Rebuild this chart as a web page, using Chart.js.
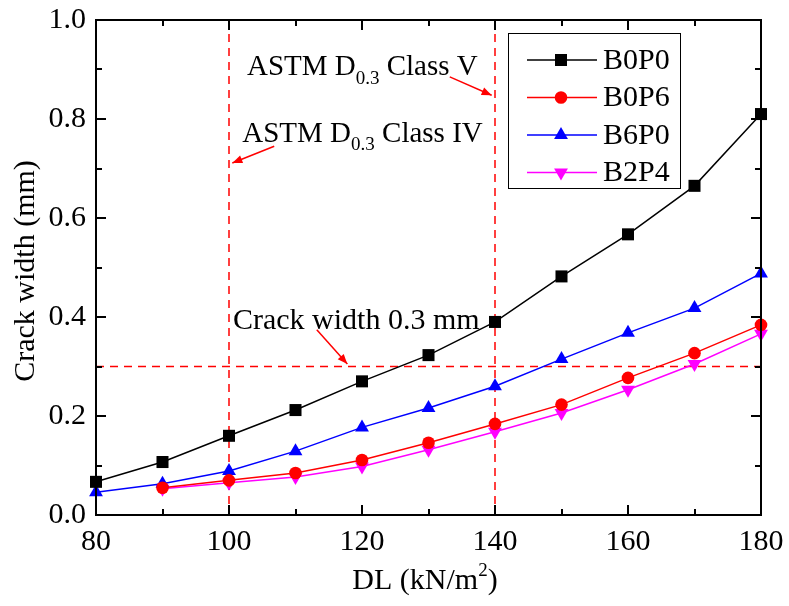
<!DOCTYPE html>
<html>
<head>
<meta charset="utf-8">
<script src="https://cdn.jsdelivr.net/npm/chart.js@4/dist/chart.umd.min.js"></script>
<style>
html,body{margin:0;padding:0;background:#fff;}
#wrap{width:789px;height:606px;}
</style>
</head>
<body>
<div id="wrap"><canvas id="c" width="789" height="606"></canvas></div>
<script>
const loads = [80, 90, 100, 110, 120, 130, 140, 150, 160, 170, 180];
const B0P0 = [0.067, 0.107, 0.160, 0.212, 0.270, 0.323, 0.390, 0.482, 0.567, 0.665, 0.810];
const B0P6 = [null, 0.055, 0.070, 0.085, 0.111, 0.146, 0.184, 0.223, 0.277, 0.327, 0.384];
const B6P0 = [0.046, 0.063, 0.089, 0.129, 0.177, 0.216, 0.260, 0.315, 0.368, 0.418, 0.488];
const B2P4 = [null, 0.053, 0.065, 0.077, 0.098, 0.132, 0.168, 0.206, 0.253, 0.305, 0.366];
const seriesNames = ['B0P0', 'B0P6', 'B6P0', 'B2P4'];
const xTickValues = [80, 100, 120, 140, 160, 180];
const yTickValues = [0, 0.2, 0.4, 0.6, 0.8, 1.0];
const refLoads = [100, 140];
const refCrack = 0.3;

const FONT = '"Liberation Serif", "Times New Roman", serif';
const FS = 30;

function mk(name, data, color, style, radius, rotation) {
  return {
    label: name,
    data: loads.map((x, i) => ({x: x, y: data[i]})),
    borderColor: color,
    backgroundColor: color,
    pointStyle: style,
    pointRadius: radius,
    pointHoverRadius: radius,
    pointRotation: rotation || 0,
    pointBorderWidth: 0,
    borderWidth: 1.5,
    tension: 0,
    spanGaps: false,
    clip: false
  };
}

const datasets = [
  mk(seriesNames[0], B0P0, '#000000', 'rect', 8.5),
  mk(seriesNames[1], B0P6, '#ff0000', 'circle', 6.3),
  mk(seriesNames[2], B6P0, '#0000ff', 'triangle', 8),
  mk(seriesNames[3], B2P4, '#ff00ff', 'triangle', 8, 180)
];

function arrow(ctx, x1, y1, x2, y2) {
  ctx.beginPath();
  ctx.moveTo(x1, y1);
  ctx.lineTo(x2, y2);
  ctx.stroke();
  const a = Math.atan2(y2 - y1, x2 - x1);
  const L = 10, W = 4;
  ctx.beginPath();
  ctx.moveTo(x2, y2);
  ctx.lineTo(x2 - L * Math.cos(a) + W * Math.sin(a), y2 - L * Math.sin(a) - W * Math.cos(a));
  ctx.lineTo(x2 - L * Math.cos(a) - W * Math.sin(a), y2 - L * Math.sin(a) + W * Math.cos(a));
  ctx.closePath();
  ctx.fill();
}

function subText(ctx, x, y, pre, sub, post, size) {
  ctx.font = size + 'px ' + FONT;
  ctx.fillText(pre, x, y);
  let w = ctx.measureText(pre).width;
  ctx.font = Math.round(size * 0.66) + 'px ' + FONT;
  ctx.fillText(sub, x + w, y + size * 0.3);
  w += ctx.measureText(sub).width;
  ctx.font = size + 'px ' + FONT;
  ctx.fillText(post, x + w, y);
}

const decor = {
  id: 'decor',
  beforeDatasetsDraw(chart) {
    const ctx = chart.ctx, xs = chart.scales.x, ys = chart.scales.y;
    const a = chart.chartArea;
    ctx.save();
    ctx.strokeStyle = '#ff0000';
    ctx.lineWidth = 1.5;
    ctx.setLineDash([8, 6]);
    refLoads.forEach(v => {
      const px = xs.getPixelForValue(v);
      ctx.beginPath(); ctx.moveTo(px, a.top); ctx.lineTo(px, a.bottom); ctx.stroke();
    });
    const py = ys.getPixelForValue(refCrack);
    ctx.beginPath(); ctx.moveTo(a.left, py); ctx.lineTo(a.right, py); ctx.stroke();
    ctx.setLineDash([]);
    ctx.fillStyle = '#000';
    ctx.textBaseline = 'alphabetic';
    ctx.textAlign = 'left';
    subText(ctx, xs.getPixelForValue(102.7), ys.getPixelForValue(0.889), 'ASTM D', '0.3', ' Class V', 29);
    subText(ctx, xs.getPixelForValue(102.0), ys.getPixelForValue(0.754), 'ASTM D', '0.3', ' Class IV', 29);
    ctx.font = FS + 'px ' + FONT;
    ctx.fillText('Crack width 0.3 mm', xs.getPixelForValue(100.6), ys.getPixelForValue(0.376));
    ctx.strokeStyle = '#ff0000';
    ctx.fillStyle = '#ff0000';
    ctx.lineWidth = 1.5;
    arrow(ctx, xs.getPixelForValue(133.2), ys.getPixelForValue(0.885), xs.getPixelForValue(139.5), ys.getPixelForValue(0.848));
    arrow(ctx, xs.getPixelForValue(106.8), ys.getPixelForValue(0.745), xs.getPixelForValue(100.5), ys.getPixelForValue(0.711));
    arrow(ctx, xs.getPixelForValue(113.2), ys.getPixelForValue(0.374), xs.getPixelForValue(117.8), ys.getPixelForValue(0.305));
    ctx.restore();
  },
  afterDatasetsDraw(chart) {
    const ctx = chart.ctx, xs = chart.scales.x, ys = chart.scales.y;
    const a = chart.chartArea;
    ctx.save();
    ctx.strokeStyle = '#000';
    ctx.lineWidth = 2;
    ctx.strokeRect(a.left, a.top, a.right - a.left, a.bottom - a.top);
    for (let v = 80; v <= 180; v += 10) {
      const px = Math.round(xs.getPixelForValue(v));
      const len = (v % 20 === 0) ? 10 : 6;
      ctx.beginPath();
      ctx.moveTo(px, a.bottom); ctx.lineTo(px, a.bottom - len);
      ctx.moveTo(px, a.top); ctx.lineTo(px, a.top + len);
      ctx.stroke();
    }
    for (let i = 0; i <= 10; i++) {
      const py = Math.round(ys.getPixelForValue(i / 10));
      const len = (i % 2 === 0) ? 10 : 6;
      ctx.beginPath();
      ctx.moveTo(a.left, py); ctx.lineTo(a.left + len, py);
      ctx.moveTo(a.right, py); ctx.lineTo(a.right - len, py);
      ctx.stroke();
    }
    ctx.fillStyle = '#000';
    ctx.textBaseline = 'alphabetic';
    const t1 = 'DL (kN/m', t2 = '2', t3 = ')';
    ctx.font = FS + 'px ' + FONT;
    const w1 = ctx.measureText(t1).width;
    ctx.font = '19px ' + FONT;
    const w2 = ctx.measureText(t2).width;
    ctx.font = FS + 'px ' + FONT;
    const w3 = ctx.measureText(t3).width;
    const cx = 425;
    let sx = cx - (w1 + w2 + w3) / 2;
    const by = 589;
    ctx.textAlign = 'left';
    ctx.fillText(t1, sx, by);
    ctx.font = '19px ' + FONT;
    ctx.fillText(t2, sx + w1, by - 13);
    ctx.font = FS + 'px ' + FONT;
    ctx.fillText(t3, sx + w1 + w2, by);
    ctx.save();
    ctx.translate(34, 271);
    ctx.rotate(-Math.PI / 2);
    ctx.textAlign = 'center';
    ctx.fillText('Crack width (mm)', 0, 0);
    ctx.restore();
    const lx = 508, ly = 33, lw = 172, lh = 155;
    ctx.fillStyle = '#fff';
    ctx.fillRect(lx, ly, lw, lh);
    ctx.strokeStyle = '#000';
    ctx.lineWidth = 1;
    ctx.strokeRect(lx + 0.5, ly + 0.5, lw, lh);
    chart.data.datasets.forEach((ds, i) => {
      const yy = 60 + i * 37.5;
      ctx.strokeStyle = ds.borderColor;
      ctx.lineWidth = 1.5;
      ctx.beginPath(); ctx.moveTo(527, yy); ctx.lineTo(597, yy); ctx.stroke();
      ctx.fillStyle = ds.borderColor;
      Chart.helpers.drawPoint(ctx, {pointStyle: ds.pointStyle, rotation: ds.pointRotation, radius: ds.pointRadius, borderWidth: 0}, 561, yy);
      ctx.fillStyle = '#000';
      ctx.font = FS + 'px ' + FONT;
      ctx.textAlign = 'left';
      ctx.textBaseline = 'middle';
      ctx.fillText(ds.label, 603, yy + 1);
    });
    ctx.restore();
  }
};

new Chart(document.getElementById('c'), {
  type: 'line',
  data: { datasets: datasets },
  options: {
    responsive: false,
    animation: false,
    events: [],
    layout: { padding: { top: 20, right: 28, left: 0, bottom: 0 } },
    plugins: { legend: { display: false }, tooltip: { enabled: false } },
    scales: {
      x: {
        type: 'linear', min: 80, max: 180,
        afterFit(s) { s.height = 91; s.paddingLeft = 0; s.paddingRight = 0; },
        afterBuildTicks(s) { s.ticks = xTickValues.map(v => ({value: v})); },
        grid: { display: false, drawTicks: false },
        border: { display: false },
        ticks: { color: '#000', font: { family: FONT, size: FS }, padding: 9, maxRotation: 0 }
      },
      y: {
        type: 'linear', min: 0, max: 1,
        afterFit(s) { s.width = 96; s.paddingTop = 0; s.paddingBottom = 0; },
        afterBuildTicks(s) { s.ticks = yTickValues.map(v => ({value: v})); },
        grid: { display: false, drawTicks: false },
        border: { display: false },
        ticks: { color: '#000', font: { family: FONT, size: FS }, padding: 10, callback: v => Number(v).toFixed(1) }
      }
    }
  },
  plugins: [decor]
});
</script>
</body>
</html>
